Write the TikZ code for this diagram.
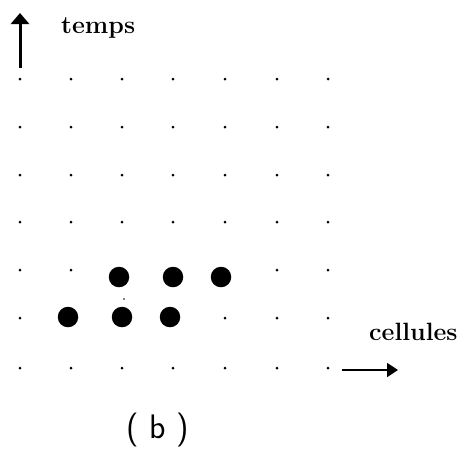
\documentclass[tikz,border=0pt]{standalone}
\usetikzlibrary{arrows.meta}
\tikzset{
  gdot/.style={circle,fill=black,inner sep=0pt,minimum size=3pt},
  bigdot/.style={circle,fill=black,inner sep=0pt,minimum size=20.5pt},
  axis/.style={-{Triangle[width=#1,length=11pt]}},
  lbl/.style={font=\fontsize{25}{28}\selectfont,inner sep=0pt}
}
\begin{document}
\begin{tikzpicture}[x=1pt,y=-1pt]
\useasboundingbox (0,0) rectangle (465,448);
% grid of small dots
\foreach \c/\x in {1/20,2/71,3/122,4/173,5/225,6/277,7/328}{
  \foreach \r/\y in {1/79,2/127,3/175,4/222,5/270,6/318,7/368}{
    \node[gdot] (g\c-\r) at (\x,\y) {};
  }
}
\node[gdot,minimum size=1.8pt] (stray) at (124,299) {};
% big dots
\node[bigdot] (b1) at (119,277) {};
\node[bigdot] (b2) at (173,277) {};
\node[bigdot] (b3) at (221,277) {};
\node[bigdot] (b4) at (68,317) {};
\node[bigdot] (b5) at (122,317) {};
\node[bigdot] (b6) at (170,317) {};
% axes
\coordinate (ya) at (20,68);
\coordinate (yb) at (20,13);
\draw[axis=18pt,line width=3pt] (ya) -- (yb);
\coordinate (xa) at (342,370);
\coordinate (xb) at (398,370);
\draw[axis=14pt,line width=1.8pt] (xa) -- (xb);
% labels
\node[lbl,anchor=base west] (temps) at (61,33) {\textbf{temps}};
\node[lbl,anchor=base west] (cell) at (369,340) {\textbf{cellules}};
\node[font=\fontsize{34}{38}\selectfont\sffamily,inner sep=0pt] (cap) at (158,430) {( b )};
\end{tikzpicture}
\end{document}
